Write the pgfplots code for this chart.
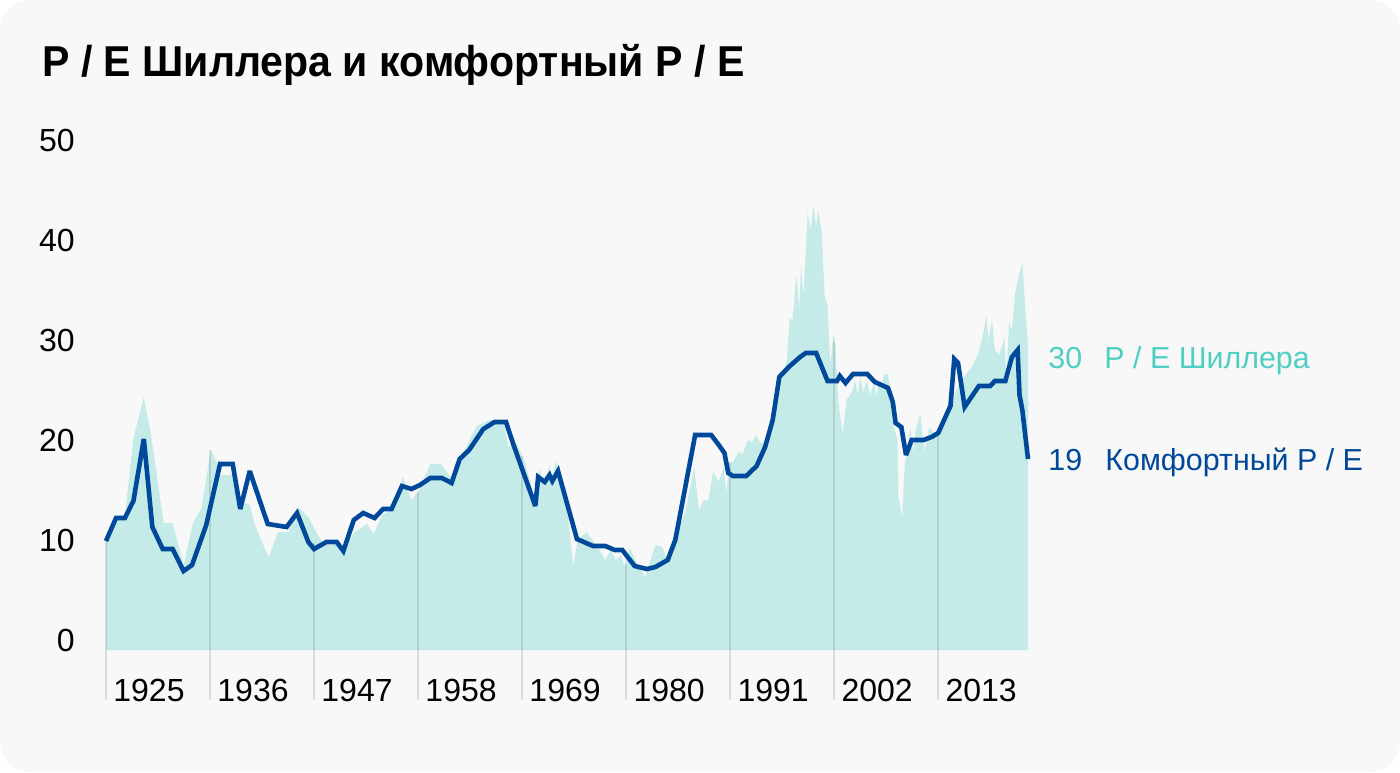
\documentclass[border=0pt]{standalone}
\usepackage{fontspec}
\setmainfont{Liberation Sans}
\usepackage{graphicx}
\usepackage{pgfplots}
\pgfplotsset{compat=1.18}

\definecolor{bgcol}{HTML}{F8F8F8}
\definecolor{areafill}{HTML}{C5EBE8}
\definecolor{linecol}{HTML}{004899}
\definecolor{tealtext}{HTML}{4FCEC2}

\begin{document}
\begin{tikzpicture}
% card background, 1400x772 px -> 700x386 pt
\fill[bgcol, rounded corners=15pt] (0,0) rectangle (700pt,386pt);

\node[anchor=base west, inner sep=0pt] at (21pt,347.5pt)
  {\fontsize{21.6}{24}\selectfont\bfseries\scalebox{0.95}[1]{P / E Шиллера и комфортный P / E}};

\begin{axis}[
    at={(53pt,36pt)}, anchor=south west,
    scale only axis, width=461pt, height=275pt,
    xmin=1925, xmax=2022.5, ymin=-5, ymax=50,
    axis line style={draw=none},
    major tick length=0pt,
    xtick={1925,1936,1947,1958,1969,1980,1991,2002,2013},
    ytick={0,10,20,30,40,50},
    /pgf/number format/1000 sep={},
    /pgf/number format/assume math mode=true,
    ticklabel style={font=\fontsize{16}{19}\selectfont, text=black},
    xticklabel style={anchor=west, inner sep=0pt, xshift=3.5pt, yshift=5pt},
    yticklabel style={anchor=east, inner sep=0pt, xshift=-15.5pt, yshift=5pt},
    clip=false,
]
% Shiller P/E area
\addplot[draw=none, fill=areafill] coordinates {
(1925.0,0) (1925.0,10.9) (1926.0,13.2) (1927.0,13.4) (1927.9,21.2) (1929.0,25.3)
(1929.8,21.3) (1931.1,12.7) (1932.05,12.7) (1933.2,8.5) (1934.2,12.7) (1935.1,14.2)
(1936.1,20.1) (1936.9,18.3) (1937.1,17.5) (1938.4,17.5) (1939.1,14.8) (1940.2,14.5)
(1940.76,12.5) (1941.3,11.2) (1942.2,9.3) (1943.2,11.8) (1944.3,11.8) (1945.3,14.3)
(1946.4,13.3) (1947.5,11.3) (1948.2,10.5) (1949.6,10.5) (1950.2,10.2) (1951.3,11.8)
(1952.6,12.6) (1953.3,11.6) (1954.2,13.5) (1955.2,14.0) (1956.4,17.3) (1957.3,15.0)
(1958.0,15.8) (1959.3,18.6) (1960.4,18.6) (1961.45,17.3) (1962.4,19.0) (1964.2,22.4)
(1965.6,23.0) (1967.0,23.0) (1967.55,20.3) (1968.4,20.7) (1969.3,18.8) (1970.4,14.8)
(1970.8,18.1) (1971.4,16.3) (1971.9,18.5) (1972.2,17.0) (1972.6,19.0) (1973.4,15.7)
(1973.9,13.0) (1974.4,8.5) (1974.9,11.0) (1975.8,11.8) (1976.7,10.7) (1977.8,9.0)
(1978.4,10.0) (1978.9,9.0) (1979.5,9.5) (1979.8,8.3) (1980.4,10.2) (1981.1,8.8)
(1982.0,7.3) (1983.1,10.5) (1983.8,10.3) (1984.3,9.2) (1985.2,11.0) (1986.3,14.0)
(1987.2,18.3) (1987.7,14.0) (1988.2,15.0) (1988.7,15.0) (1989.2,17.8) (1989.8,16.8)
(1990.3,18.3) (1990.6,15.7) (1990.9,18.7) (1991.3,18.8) (1991.9,19.8) (1992.3,19.6)
(1992.9,21.0) (1993.3,20.8) (1993.75,21.5) (1994.2,20.7) (1994.7,20.7) (1995.5,23.0)
(1996.3,26.7) (1997.0,29.0) (1997.3,33.2) (1997.6,33.0) (1998.0,37.5) (1998.3,34.2)
(1998.5,38.5) (1998.75,35.3) (1999.2,43.8) (1999.5,42.0) (1999.8,44.5) (2000.1,42.3)
(2000.3,44.0) (2000.7,41.7) (2001.0,35.3) (2001.3,34.5) (2001.6,28.5) (2001.9,31.5)
(2002.1,31.0) (2002.45,24.7) (2002.9,21.5) (2003.3,25.0) (2003.9,25.8) (2004.2,27.0)
(2004.5,25.5) (2004.75,27.2) (2005.1,25.8) (2005.45,27.0) (2005.8,25.5) (2006.2,26.7)
(2006.5,25.3) (2006.7,27.0) (2007.0,26.3) (2007.3,27.6) (2007.7,27.6) (2007.95,25.3)
(2008.3,22.3) (2008.7,21.0) (2008.8,15.3) (2009.2,13.3) (2009.45,18.3) (2010.05,22.2)
(2010.4,19.7) (2010.6,21.8) (2011.1,23.7) (2011.55,19.8) (2012.05,22.3) (2012.5,21.7)
(2013.0,21.9) (2013.9,24.2) (2014.4,25.0) (2015.5,27.0) (2016.55,28.3) (2017.25,29.7)
(2017.7,31.3) (2018.1,33.5) (2018.3,31.0) (2018.7,33.0) (2019.0,30.0) (2019.45,29.5)
(2019.8,30.5) (2020.0,31.3) (2020.2,27.0) (2020.5,32.7) (2020.8,32.0) (2021.15,35.7)
(2021.5,37.3) (2021.9,38.8) (2022.2,34.3) (2022.5,30.3) (2022.5,0)
};
% year separators
\addplot[black, opacity=0.11, line width=0.75pt, unbounded coords=jump] coordinates {
(1925,-5) (1925,10.9) (1925,nan)
(1936,-5) (1936,20.0) (1936,nan)
(1947,-5) (1947,10.7) (1947,nan)
(1958,-5) (1958,15.8) (1958,nan)
(1969,-5) (1969,19.4) (1969,nan)
(1980,-5) (1980,8.6) (1980,nan)
(1991,-5) (1991,18.8) (1991,nan)
(2002,-5) (2002,30.8) (2002,nan)
(2013,-5) (2013,21.8)
};
% comfortable P/E
\addplot[linecol, line width=2.3pt, line join=miter, miter limit=3] coordinates {
(1925.0,10.9) (1926.06,13.2) (1927.0,13.2) (1927.9,14.9) (1929.0,21.1) (1929.9,12.3)
(1931.0,10.1) (1932.05,10.1) (1933.2,7.9) (1934.1,8.5) (1935.6,12.5) (1937.06,18.6)
(1938.4,18.6) (1939.2,14.1) (1940.2,17.9) (1942.1,12.6) (1944.1,12.3) (1945.2,13.7)
(1946.4,10.8) (1947.0,10.1) (1948.3,10.8) (1949.4,10.8) (1950.1,9.9) (1951.2,13.0)
(1952.2,13.7) (1953.4,13.2) (1954.3,14.1) (1955.2,14.1) (1956.3,16.4) (1957.3,16.1)
(1958.2,16.5) (1959.3,17.2) (1960.5,17.2) (1961.55,16.7) (1962.4,19.1) (1963.4,20.0)
(1964.9,22.1) (1966.1,22.8) (1967.3,22.8) (1968.1,20.5) (1970.4,14.4) (1970.7,17.3)
(1971.4,16.8) (1971.9,17.5) (1972.2,16.9) (1972.8,17.9) (1974.8,11.1) (1976.5,10.4)
(1977.8,10.4) (1978.8,10.0) (1979.6,10.0) (1980.9,8.4) (1982.2,8.1) (1983.1,8.3)
(1984.4,9.0) (1985.2,11.0) (1987.3,21.5) (1989.0,21.5) (1989.8,20.5) (1990.4,19.7)
(1990.8,17.7) (1991.3,17.4) (1992.7,17.4) (1993.8,18.4) (1994.7,20.3) (1995.5,23.0)
(1996.2,27.3) (1997.2,28.3) (1998.4,29.3) (1999.0,29.7) (2000.1,29.7) (2001.3,26.9)
(2002.3,26.9) (2002.6,27.4) (2003.2,26.7) (2004.0,27.6) (2005.5,27.6) (2006.3,26.8)
(2007.7,26.2) (2008.2,24.8) (2008.5,22.7) (2009.1,22.3) (2009.6,19.5) (2010.2,21.0)
(2011.45,21.0) (2012.3,21.3) (2013.0,21.7) (2014.3,24.4) (2014.7,29.1) (2015.1,28.7)
(2015.8,24.3) (2017.3,26.4) (2018.5,26.4) (2019.0,26.9) (2020.1,26.9) (2020.8,29.3)
(2021.4,30.0) (2021.6,25.5) (2021.9,24.0) (2022.5,19.1)
};
\end{axis}

% end labels
\begin{scope}[every node/.style={anchor=base west, inner sep=0pt, font=\fontsize{15.2}{18}\selectfont}]
\node[text=tealtext] at (524pt,202pt) {30};
\node[text=tealtext] at (552pt,202pt) {P / E Шиллера};
\node[text=linecol] at (524pt,151pt) {19};
\node[text=linecol] at (552.5pt,151pt) {Комфортный P / E};
\end{scope}
\end{tikzpicture}
\end{document}
